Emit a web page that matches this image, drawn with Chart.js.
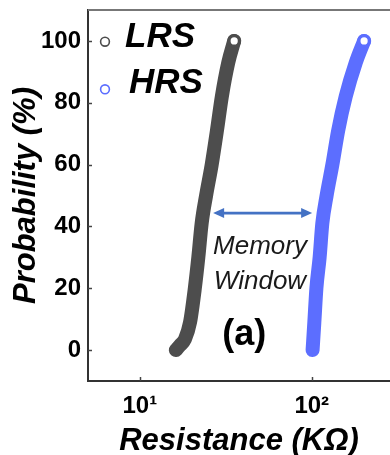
<!DOCTYPE html>
<html>
<head>
<meta charset="utf-8">
<script src="https://cdn.jsdelivr.net/npm/chart.js@4.4.1/dist/chart.umd.min.js"></script>
<style>
  html, body { margin: 0; padding: 0; background: #fff; overflow: hidden; }
  #wrap { width: 390px; height: 455px; position: relative; }
  canvas { display: block; }
</style>
</head>
<body>
<div id="wrap"><canvas id="c" width="390" height="455"></canvas></div>
<script>
// ---- Data ----
const seriesNames = ['LRS', 'HRS'];
// Cumulative probability (%) levels
const lrsProbability = [0, 1.5, 3.5, 9, 20, 30, 41, 50, 60, 71, 82, 93, 100];
// LRS resistance (kOhm)
const lrsResistance = [16.2, 17.1, 18.3, 19.6, 20.9, 21.9, 22.9, 24.3, 26.2, 28.1, 30.0, 32.7, 35.4];
const hrsProbability = [0, 9, 20, 30, 41, 50, 60, 71, 82, 93, 100];
// HRS resistance (kOhm)
const hrsResistance = [101.1, 103.5, 106.4, 111.1, 115.2, 122.0, 131.8, 142.4, 157.5, 180.3, 201.5];

const xTicks = [10, 100];
const xTickLabels = ['10\u00B9', '10\u00B2'];
const yTicks = [0, 20, 40, 60, 80, 100];
const yTickLabels = ['0', '20', '40', '60', '80', '100'];

// Memory-window arrow (resistance span at a probability level)
const arrowResistance = [26.7, 100.5];
const arrowProbability = 44.3;
const windowLabel = ['Memory', 'Window'];
const panelLabel = '(a)';

const xTitle = 'Resistance (K\u03A9)';
const yTitle = 'Probability (%)';

const colors = { LRS: '#4d4d4d', HRS: '#5c6eff', arrow: '#4472c4' };
const FONT = "'Liberation Sans', Arial, sans-serif";

function pts(xs, ys) { return xs.map((x, i) => ({ x: x, y: ys[i] })); }

function lineDataset(name, xs, ys, color) {
  const last = xs.length - 1;
  return {
    label: name,
    data: pts(xs, ys),
    showLine: true,
    borderColor: color,
    backgroundColor: color,
    borderWidth: 14,
    borderCapStyle: 'round',
    borderJoinStyle: 'round',
    cubicInterpolationMode: 'monotone',
    pointRadius: ctx => ctx.dataIndex === last ? 5.3 : 0,
    pointHoverRadius: ctx => ctx.dataIndex === last ? 5.3 : 0,
    pointBackgroundColor: '#ffffff',
    pointBorderColor: color,
    pointBorderWidth: 3.4,
    clip: false
  };
}

const decorPlugin = {
  id: 'decor',
  afterDraw(chart) {
    const { ctx, chartArea: a, scales: { x, y } } = chart;
    ctx.save();
    // top frame line
    ctx.strokeStyle = '#777';
    ctx.lineWidth = 2;
    ctx.beginPath();
    ctx.moveTo(a.left, a.top);
    ctx.lineTo(a.right, a.top);
    ctx.stroke();
    // inward tick marks
    ctx.strokeStyle = '#444';
    ctx.lineWidth = 1.5;
    yTicks.forEach(v => {
      const py = Math.round(y.getPixelForValue(v)) + 0.5;
      ctx.beginPath(); ctx.moveTo(a.left, py); ctx.lineTo(a.left + 4, py); ctx.stroke();
    });
    xTicks.forEach(v => {
      const px = Math.round(x.getPixelForValue(v)) + 0.5;
      ctx.beginPath(); ctx.moveTo(px, a.bottom); ctx.lineTo(px, a.bottom - 4); ctx.stroke();
    });
    ctx.restore();
  },
  afterDatasetsDraw(chart) {
    const { ctx, chartArea: a, scales: { x, y } } = chart;
    ctx.save();
    // legend (inside plot, top-left)
    const legendItems = [
      { name: seriesNames[0], color: colors.LRS, my: 31.7, tx: 125, ty: 37 },
      { name: seriesNames[1], color: colors.HRS, my: 79.3, tx: 129, ty: 83 }
    ];
    legendItems.forEach(it => {
      ctx.beginPath();
      ctx.arc(a.left + 17, a.top + it.my, 4.4, 0, Math.PI * 2);
      ctx.fillStyle = '#fff';
      ctx.fill();
      ctx.lineWidth = 1.6;
      ctx.strokeStyle = it.color;
      ctx.stroke();
      ctx.fillStyle = '#000';
      ctx.font = 'italic bold 35px ' + FONT;
      ctx.textAlign = 'left';
      ctx.textBaseline = 'alphabetic';
      ctx.fillText(it.name, it.tx, a.top + it.ty);
    });

    // double-headed arrow
    const x1 = x.getPixelForValue(arrowResistance[0]);
    const x2 = x.getPixelForValue(arrowResistance[1]);
    const ay = y.getPixelForValue(arrowProbability);
    const hl = 11, hw = 5;
    ctx.strokeStyle = colors.arrow;
    ctx.fillStyle = colors.arrow;
    ctx.lineWidth = 2.6;
    ctx.beginPath();
    ctx.moveTo(x1 + hl - 1, ay); ctx.lineTo(x2 - hl + 1, ay); ctx.stroke();
    ctx.beginPath();
    ctx.moveTo(x1, ay); ctx.lineTo(x1 + hl, ay - hw); ctx.lineTo(x1 + hl, ay + hw); ctx.closePath(); ctx.fill();
    ctx.beginPath();
    ctx.moveTo(x2, ay); ctx.lineTo(x2 - hl, ay - hw); ctx.lineTo(x2 - hl, ay + hw); ctx.closePath(); ctx.fill();

    // Memory Window label
    const cx = x.getPixelForValue(50);
    ctx.fillStyle = '#1a1a1a';
    ctx.font = 'italic 26px ' + FONT;
    ctx.textAlign = 'center';
    ctx.textBaseline = 'alphabetic';
    ctx.fillText(windowLabel[0], cx, y.getPixelForValue(31));
    ctx.fillText(windowLabel[1], cx, y.getPixelForValue(19.7));

    // panel label
    ctx.fillStyle = '#000';
    ctx.font = 'bold 36px ' + FONT;
    ctx.fillText(panelLabel, x.getPixelForValue(40.5), y.getPixelForValue(1.5));
    ctx.restore();
  }
};

new Chart(document.getElementById('c'), {
  type: 'scatter',
  data: {
    datasets: [
      lineDataset(seriesNames[0], lrsResistance, lrsProbability, colors.LRS),
      lineDataset(seriesNames[1], hrsResistance, hrsProbability, colors.HRS)
    ]
  },
  options: {
    responsive: false,
    animation: false,
    devicePixelRatio: 1,
    layout: { autoPadding: false, padding: { top: 10, right: 0, left: 0, bottom: 0 } },
    plugins: { legend: { display: false }, tooltip: { enabled: false } },
    scales: {
      x: {
        type: 'logarithmic',
        position: 'bottom',
        min: 5,
        max: 285,
        afterBuildTicks: s => { s.ticks = xTicks.map(v => ({ value: v })); },
        afterFit: s => { s.height = 74; s.paddingLeft = 0; s.paddingRight = 0; s.paddingTop = 0; s.paddingBottom = 0; },
        ticks: {
          autoSkip: false,
          maxRotation: 0,
          padding: 11,
          color: '#000',
          font: { family: FONT, size: 24, weight: 'bold' },
          callback: (v, i) => xTickLabels[i]
        },
        grid: { display: false, drawTicks: false },
        border: { display: true, color: '#333', width: 2 },
        title: {
          display: true,
          text: xTitle,
          color: '#000',
          padding: 0,
          font: { family: FONT, size: 31, weight: 'bold', style: 'italic', lineHeight: 0.9 }
        }
      },
      y: {
        type: 'linear',
        min: -10,
        max: 110,
        afterBuildTicks: s => { s.ticks = yTicks.map(v => ({ value: v })); },
        afterFit: s => { s.width = 88; s.paddingLeft = 0; s.paddingRight = 0; s.paddingTop = 0; s.paddingBottom = 0; },
        ticks: {
          padding: 7,
          color: '#000',
          font: { family: FONT, size: 24, weight: 'bold' },
          callback: (v, i) => yTickLabels[i]
        },
        grid: { display: false, drawTicks: false },
        border: { display: true, color: '#333', width: 2 },
        title: {
          display: true,
          text: yTitle,
          color: '#000',
          padding: { top: 8, bottom: 0 },
          font: { family: FONT, size: 31, weight: 'bold', style: 'italic', lineHeight: 1.2 }
        }
      }
    }
  },
  plugins: [decorPlugin]
});
</script>
</body>
</html>
